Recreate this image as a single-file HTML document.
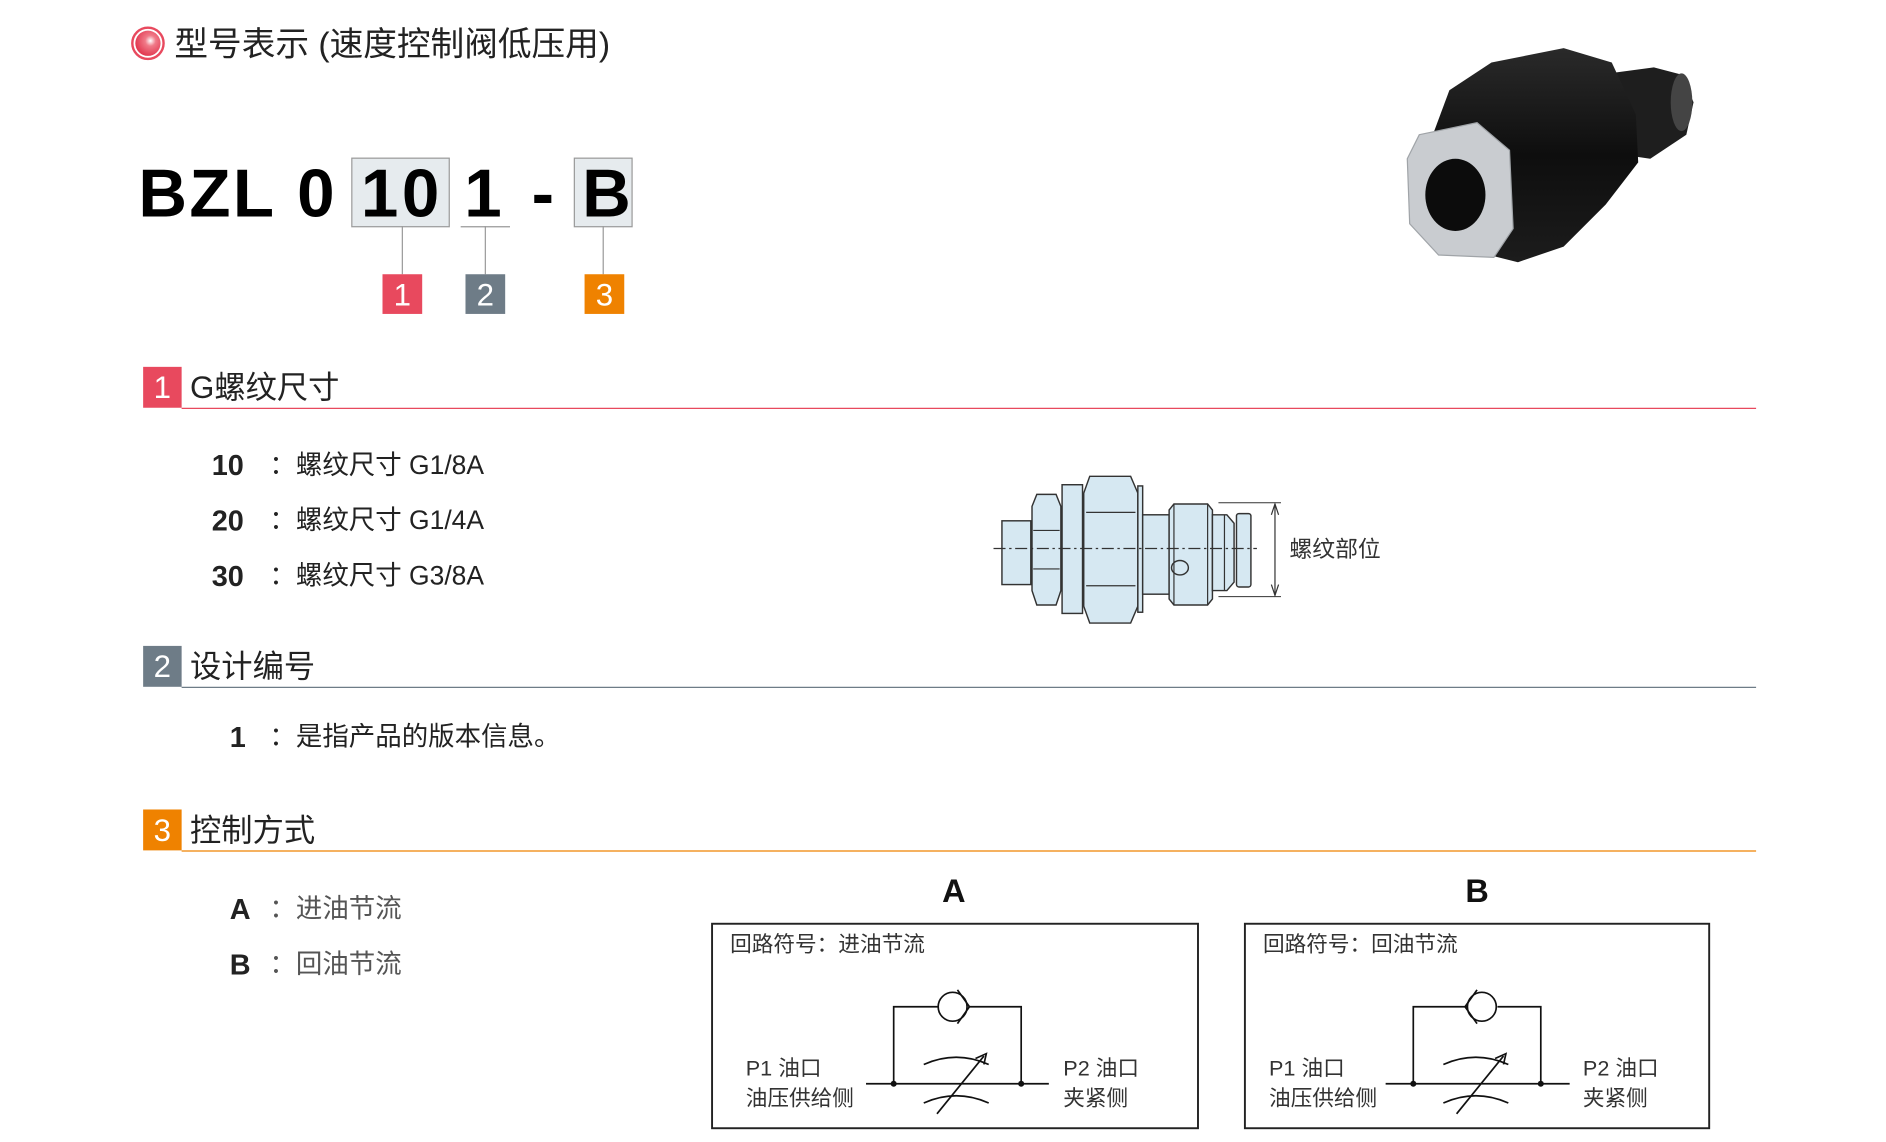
<!DOCTYPE html>
<html><head><meta charset="utf-8"><style>
html,body{margin:0;padding:0;background:#fff;}
svg{display:block;}
text{font-family:"Liberation Sans","Noto Sans CJK SC",sans-serif;}
</style></head><body>
<svg width="1886" height="1142" viewBox="0 0 1568 949.45" xmlns="http://www.w3.org/2000/svg">
<defs>
<radialGradient id="rg" cx="0.6" cy="0.4" r="0.6"><stop offset="0" stop-color="#fff"/><stop offset="0.35" stop-color="#f07a88"/><stop offset="1" stop-color="#e23a52"/></radialGradient>
<linearGradient id="bd" x1="0" y1="0" x2="0" y2="1"><stop offset="0" stop-color="#2a2a2a"/><stop offset="0.5" stop-color="#0e0e0e"/><stop offset="1" stop-color="#1c1c1c"/></linearGradient>
</defs>
<!-- title -->
<circle cx="123" cy="36" r="13" fill="#fff" stroke="#e8495e" stroke-width="2"/>
<circle cx="123" cy="36" r="10.5" fill="url(#rg)"/>
<text x="145" y="46" font-size="28" fill="#222">型号表示 (速度控制阀低压用)</text>

<!-- model code -->
<rect x="292.5" y="131.5" width="81" height="57" fill="#e6ebee" stroke="#999" stroke-width="1"/>
<rect x="477.5" y="131.5" width="48" height="57" fill="#e6ebee" stroke="#999" stroke-width="1"/>
<line x1="383" y1="188.5" x2="424" y2="188.5" stroke="#999"/>
<g font-size="56" font-weight="bold" fill="#000">
<text x="115" y="180" letter-spacing="2">BZL</text>
<text x="247" y="180">0</text>
<text x="300" y="180" letter-spacing="3">10</text>
<text x="386" y="180">1</text>
<text x="442" y="180">-</text>
<text x="484" y="180">B</text>
</g>
<g stroke="#999" stroke-width="1">
<line x1="334.5" y1="188" x2="334.5" y2="228"/>
<line x1="403.5" y1="188" x2="403.5" y2="228"/>
<line x1="501.5" y1="188" x2="501.5" y2="228"/>
</g>
<g font-size="26" fill="#fff" text-anchor="middle">
<rect x="318" y="228" width="33" height="33" fill="#e8495e"/><text x="334.5" y="254">1</text>
<rect x="387" y="228" width="33" height="33" fill="#6e7c87"/><text x="403.5" y="254">2</text>
<rect x="486" y="228" width="33" height="33" fill="#ef8200"/><text x="502.5" y="254">3</text>
</g>

<!-- product photo -->
<g>
<path d="M1330 62 L1375 56 L1398 62 L1408 85 L1402 112 L1372 132 L1345 128 Z" fill="#1e1e1e"/>
<ellipse cx="1398" cy="85" rx="9" ry="24" fill="#444"/>
<path d="M1240 52 L1300 40 L1340 52 L1360 95 L1362 135 L1335 170 L1300 205 L1262 218 L1230 210 L1200 160 L1192 110 L1205 75 Z" fill="url(#bd)"/>
<path d="M1180 112 L1228 102 L1255 125 L1258 190 L1242 214 L1196 212 L1172 186 L1170 132 Z" fill="#c9ccd0" stroke="#a0a4a8"/>
<ellipse cx="1210" cy="162" rx="25" ry="30" fill="#0c0c0c"/>
</g>

<!-- section 1 -->
<rect x="119" y="305" width="32" height="34" fill="#e8495e"/>
<text x="135" y="331" font-size="26" fill="#fff" text-anchor="middle">1</text>
<text x="158" y="331" font-size="26" fill="#222">G螺纹尺寸</text>
<line x1="151" y1="339.5" x2="1460" y2="339.5" stroke="#e8495e" stroke-width="1"/>
<g font-size="22" fill="#222">
<text x="176" y="395" font-weight="bold" font-size="24">10</text><text x="224" y="394">：螺纹尺寸 G1/8A</text>
<text x="176" y="441" font-weight="bold" font-size="24">20</text><text x="224" y="440">：螺纹尺寸 G1/4A</text>
<text x="176" y="487" font-weight="bold" font-size="24">30</text><text x="224" y="486">：螺纹尺寸 G3/8A</text>
</g>

<!-- component drawing -->
<g fill="#d6e8f2" stroke="#333" stroke-width="1.2">
<rect x="833" y="433" width="24" height="53"/>
<path d="M858 421 L862 411 L878 411 L882 421 L882 491 L878 503 L862 503 L858 491 Z"/>
<rect x="883" y="403" width="17" height="107"/>
<path d="M901 410 L906 396 L940 396 L946 410 L946 504 L940 518 L906 518 L901 504 Z"/>
<rect x="946" y="404" width="4" height="105"/>
<rect x="950" y="428" width="22" height="66"/>
<path d="M972 424 L976 419 L1004 419 L1008 424 L1008 498 L1004 503 L976 503 L972 498 Z"/>
<path d="M1008 428 L1020 428 L1026 435 L1026 484 L1020 491 L1008 491 Z"/>
<rect x="1028" y="427" width="12" height="61" rx="2"/>
<ellipse cx="981" cy="472" rx="7" ry="6"/>
</g>
<g stroke="#333" stroke-width="1" fill="none">
<line x1="903" y1="426" x2="944" y2="426"/><line x1="903" y1="487" x2="944" y2="487"/>
<line x1="859" y1="441" x2="881" y2="441"/><line x1="859" y1="473" x2="881" y2="473"/>
<line x1="976" y1="419" x2="976" y2="503"/><line x1="1004" y1="419" x2="1004" y2="503"/>
<line x1="1018" y1="428" x2="1018" y2="491"/>
<line x1="826" y1="456" x2="1045" y2="456" stroke-dasharray="10,3,2,3"/>
<line x1="1013" y1="418" x2="1065" y2="418" stroke-width="0.8"/>
<line x1="1013" y1="496" x2="1065" y2="496" stroke-width="0.8"/>
<line x1="1060" y1="419" x2="1060" y2="495"/>
<path d="M1057 428 L1060 419 L1063 428 M1057 486 L1060 495 L1063 486"/>
</g>
<text x="1072" y="463" font-size="19" fill="#333">螺纹部位</text>

<!-- section 2 -->
<rect x="119" y="537" width="32" height="34" fill="#6e7c87"/>
<text x="135" y="563" font-size="26" fill="#fff" text-anchor="middle">2</text>
<text x="158" y="563" font-size="26" fill="#222">设计编号</text>
<line x1="151" y1="571.5" x2="1460" y2="571.5" stroke="#6e7c87" stroke-width="1"/>
<text x="191" y="621" font-weight="bold" font-size="24" fill="#222">1</text>
<text x="224" y="620" font-size="22" fill="#222">：是指产品的版本信息。</text>

<!-- section 3 -->
<rect x="119" y="673" width="32" height="34" fill="#ef8200"/>
<text x="135" y="699" font-size="26" fill="#fff" text-anchor="middle">3</text>
<text x="158" y="699" font-size="26" fill="#222">控制方式</text>
<line x1="151" y1="707.5" x2="1460" y2="707.5" stroke="#ef8200" stroke-width="1"/>
<text x="191" y="764" font-weight="bold" font-size="24" fill="#222">A</text>
<text x="224" y="763" font-size="22" fill="#555">：进油节流</text>
<text x="191" y="810" font-weight="bold" font-size="24" fill="#222">B</text>
<text x="224" y="809" font-size="22" fill="#555">：回油节流</text>

<!-- Box A -->
<text x="793" y="750" font-size="27" font-weight="bold" text-anchor="middle" fill="#111">A</text>
<rect x="592" y="768" width="404" height="170" fill="none" stroke="#222" stroke-width="1.6"/>
<text x="607" y="791" font-size="18" fill="#333">回路符号：进油节流</text>
<g stroke="#111" stroke-width="1.4" fill="none">
<line x1="720" y1="901" x2="872" y2="901"/>
<polyline points="743,901 743,837 780,837"/><polyline points="805,837 849,837 849,901"/>
<circle cx="792" cy="837" r="12"/>
<path d="M796 823 L806 837 L796 851"/>
<path d="M768 885 Q795 873 822 885"/><path d="M768 917 Q795 905 822 917"/>
<line x1="779" y1="926" x2="818" y2="878"/>
<path d="M811 880 L820 876 L818 885"/>
</g>
<circle cx="743" cy="901" r="2.5" fill="#111"/><circle cx="849" cy="901" r="2.5" fill="#111"/>
<g font-size="18" fill="#333">
<text x="620" y="894">P1 油口</text><text x="620" y="919">油压供给侧</text>
<text x="884" y="894">P2 油口</text><text x="884" y="919">夹紧侧</text>
</g>

<!-- Box B -->
<text x="1228" y="750" font-size="27" font-weight="bold" text-anchor="middle" fill="#111">B</text>
<rect x="1035" y="768" width="386" height="170" fill="none" stroke="#222" stroke-width="1.6"/>
<text x="1050" y="791" font-size="18" fill="#333">回路符号：回油节流</text>
<g stroke="#111" stroke-width="1.4" fill="none">
<line x1="1152" y1="901" x2="1305" y2="901"/>
<polyline points="1175,901 1175,837 1220,837"/><polyline points="1245,837 1281,837 1281,901"/>
<circle cx="1232" cy="837" r="12"/>
<path d="M1228 823 L1218 837 L1228 851"/>
<path d="M1200 885 Q1227 873 1254 885"/><path d="M1200 917 Q1227 905 1254 917"/>
<line x1="1211" y1="926" x2="1250" y2="878"/>
<path d="M1243 880 L1252 876 L1250 885"/>
</g>
<circle cx="1175" cy="901" r="2.5" fill="#111"/><circle cx="1281" cy="901" r="2.5" fill="#111"/>
<g font-size="18" fill="#333">
<text x="1055" y="894">P1 油口</text><text x="1055" y="919">油压供给侧</text>
<text x="1316" y="894">P2 油口</text><text x="1316" y="919">夹紧侧</text>
</g>
</svg>
</body></html>
